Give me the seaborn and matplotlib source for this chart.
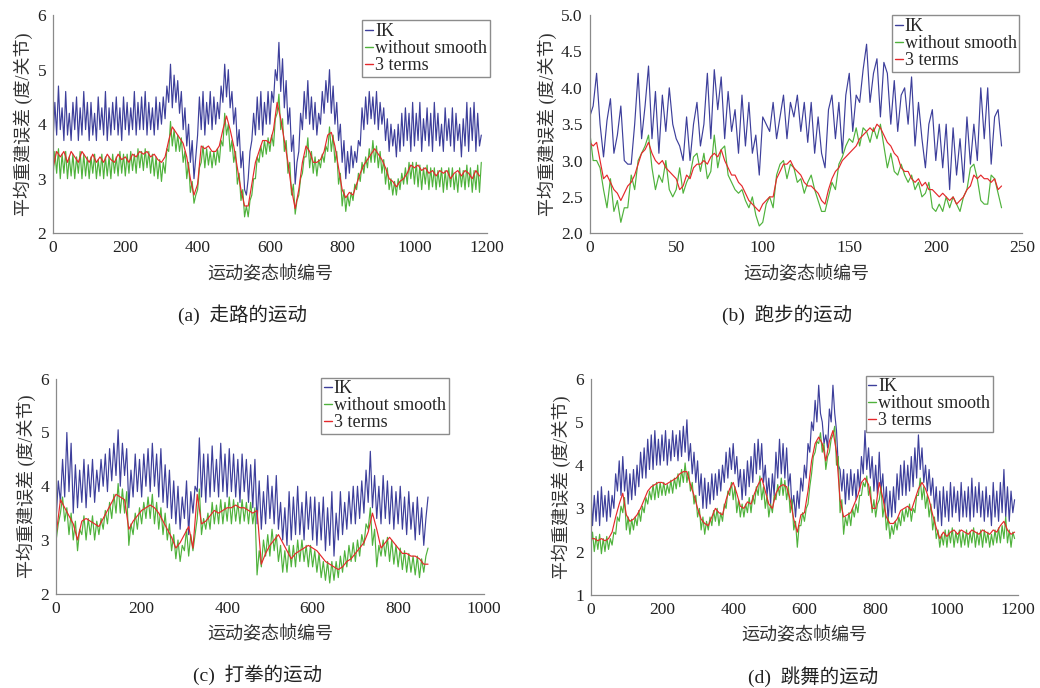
import numpy as np
import pandas as pd
import seaborn as sns
import matplotlib.pyplot as plt
from matplotlib.lines import Line2D
from matplotlib.ticker import FormatStrFormatter

# mean reconstruction error per frame
# (a) walking: IK / without smooth every 5 frames, 3 terms every 10 frames
walk_ik = [3.7, 4.4, 3.8, 4.7, 3.9, 4.3, 3.7, 4.6, 3.8, 4.2,
           3.7, 4.4, 3.9, 4.5, 3.7, 4.3, 3.8, 4.6, 3.9, 4.4,
           3.7, 4.4, 3.8, 4.2, 3.7, 4.5, 3.9, 4.3, 3.8, 4.6,
           3.7, 4.3, 3.8, 4.4, 3.9, 4.5, 3.8, 4.3, 3.7, 4.5,
           3.9, 4.4, 3.8, 4.3, 3.9, 4.6, 3.8, 4.4, 3.9, 4.5,
           3.9, 4.6, 3.8, 4.4, 3.9, 4.3, 3.8, 4.5, 3.9, 4.4,
           4.0, 4.5, 4.1, 4.7, 4.4, 5.1, 4.3, 4.9, 4.4, 4.8,
           4.2, 4.6, 3.9, 4.3, 3.6, 4.0, 3.3, 3.7, 3.0, 3.4,
           3.8, 4.5, 3.9, 4.6, 3.8, 4.4, 4.0, 4.6, 3.9, 4.5,
           4.0, 4.4, 4.1, 4.7, 4.4, 5.1, 4.5, 5.0, 4.3, 4.6,
           4.0, 4.3, 3.6, 3.9, 3.2, 3.5, 2.8, 2.7, 3.0, 3.5,
           3.7, 4.2, 3.8, 4.5, 3.9, 4.6, 3.8, 4.4, 4.0, 4.6,
           4.0, 4.6, 4.4, 5.0, 4.8, 5.5, 4.6, 5.2, 4.3, 4.8,
           4.0, 4.3, 3.5, 3.8, 2.9, 3.3, 3.5, 4.2, 3.9, 4.6,
           4.1, 4.8, 4.0, 4.5, 3.9, 4.4, 3.8, 4.2, 4.0, 4.6,
           4.2, 4.8, 4.4, 5.0, 4.2, 4.7, 4.0, 4.4, 3.7, 4.0,
           3.3, 3.7, 3.0, 3.5, 3.1, 3.6, 3.2, 3.5, 3.3, 3.7,
           3.6, 4.3, 3.9, 4.5, 4.0, 4.6, 4.1, 4.5, 4.0, 4.6,
           3.9, 4.4, 4.0, 4.3, 3.7, 4.1, 3.5, 4.0, 3.6, 3.9,
           3.4, 4.0, 3.5, 4.2, 3.6, 4.3, 3.7, 4.2, 3.5, 4.4,
           3.6, 4.2, 3.7, 4.4, 3.5, 4.1, 3.7, 4.3, 3.6, 4.2,
           3.5, 4.4, 3.7, 4.2, 3.6, 4.0, 3.5, 4.3, 3.7, 4.1,
           3.6, 4.3, 3.5, 4.2, 3.7, 4.0, 3.4, 4.1, 3.6, 4.4,
           3.5, 4.3, 3.7, 4.4, 3.5, 4.2, 3.6, 3.8]
walk_ws = [3.05, 3.5, 3.1, 3.55, 3.0, 3.45, 3.1, 3.5, 3.0, 3.4,
           3.05, 3.45, 3.0, 3.4, 3.1, 3.5, 3.0, 3.45, 3.05, 3.4,
           3.0, 3.4, 3.1, 3.45, 3.0, 3.35, 3.05, 3.45, 3.0, 3.4,
           3.05, 3.4, 3.0, 3.45, 3.1, 3.4, 3.05, 3.5, 3.1, 3.45,
           3.05, 3.45, 3.1, 3.5, 3.15, 3.45, 3.1, 3.55, 3.2, 3.5,
           3.15, 3.55, 3.2, 3.5, 3.1, 3.45, 3.05, 3.4, 3.0, 3.35,
           2.95, 3.3, 3.1, 3.55, 3.5, 4.05, 3.6, 3.9, 3.5, 3.8,
           3.5, 3.75, 3.3, 3.5, 3.0, 3.3, 2.75, 2.95, 2.55, 2.7,
           2.8, 3.2, 3.3, 3.6, 3.2, 3.55, 3.25, 3.5, 3.2, 3.5,
           3.25, 3.55, 3.3, 3.7, 3.6, 4.2, 3.8, 4.0, 3.5, 3.7,
           3.3, 3.5, 2.9, 3.1, 2.6, 2.8, 2.3, 2.5, 2.3, 2.6,
           2.7, 3.0, 3.0, 3.4, 3.3, 3.6, 3.4, 3.7, 3.45, 3.75,
           3.5, 3.8, 3.6, 4.1, 4.2, 4.55, 3.9, 4.1, 3.5, 3.7,
           3.1, 3.3, 2.7, 2.9, 2.35, 2.6, 2.7, 3.0, 3.1, 3.4,
           3.4, 3.75, 3.2, 3.5, 3.1, 3.4, 3.05, 3.35, 3.2, 3.45,
           3.3, 3.6, 3.5, 3.95, 3.5, 3.8, 3.3, 3.5, 2.9, 3.1,
           2.5, 2.8, 2.4, 2.7, 2.5, 2.75, 2.6, 2.9, 2.8, 3.1,
           2.95, 3.3, 3.1, 3.4, 3.2, 3.55, 3.3, 3.7, 3.3, 3.6,
           3.2, 3.5, 3.1, 3.35, 2.9, 3.2, 2.8, 3.0, 2.7, 2.95,
           2.7, 3.0, 2.8, 3.1, 2.9, 3.2, 2.9, 3.3, 3.0, 3.3,
           2.9, 3.3, 2.85, 3.25, 2.8, 3.2, 2.9, 3.25, 2.8, 3.2,
           2.85, 3.2, 2.8, 3.15, 2.85, 3.2, 2.75, 3.15, 2.8, 3.2,
           2.85, 3.2, 2.8, 3.1, 2.75, 3.2, 2.85, 3.15, 2.8, 3.25,
           2.85, 3.2, 2.75, 3.15, 2.8, 3.25, 2.75, 3.3]
walk_t3 = [3.2, 3.5, 3.4, 3.5, 3.3, 3.5, 3.4, 3.3, 3.5, 3.4,
           3.3, 3.45, 3.3, 3.4, 3.3, 3.45, 3.35, 3.3, 3.45, 3.35,
           3.4, 3.3, 3.45, 3.4, 3.5, 3.45, 3.5, 3.4, 3.45, 3.35,
           3.3, 3.4, 3.7, 3.95, 3.85, 3.75, 3.65, 3.4, 3.0, 2.7,
           2.9, 3.6, 3.55, 3.6, 3.5, 3.5, 3.6, 3.9, 4.15, 3.9,
           3.6, 3.2, 2.8, 2.5, 2.5, 2.9, 3.3, 3.5, 3.7, 3.7,
           3.65, 3.9, 4.4, 4.1, 3.7, 3.3, 2.8, 2.45, 2.8, 3.3,
           3.6, 3.5, 3.3, 3.3, 3.35, 3.5, 3.8, 3.85, 3.6, 3.2,
           2.8, 2.65, 2.75, 2.7, 2.9, 3.1, 3.25, 3.35, 3.45, 3.55,
           3.45, 3.35, 3.2, 3.0, 2.95, 2.85, 2.95, 3.0, 3.1, 3.25,
           3.2, 3.25, 3.15, 3.2, 3.1, 3.15, 3.05, 3.15, 3.1, 3.15,
           3.0, 3.1, 3.15, 3.05, 3.15, 3.1, 3.0, 3.15, 3.05]

# (b) running, every 2 frames
run_ik = [3.6, 3.75, 4.2, 3.5, 3.05, 3.55, 3.85, 3.1, 3.35, 3.75,
          3.0, 2.95, 2.95, 3.5, 4.2, 3.3, 3.75, 4.3, 3.3, 3.95,
          3.1, 3.9, 3.4, 4.0, 3.5, 3.3, 3.2, 3.0, 3.6, 3.0,
          3.5, 3.8, 3.2, 3.5, 4.2, 3.3, 4.25, 3.7, 4.15, 3.3,
          3.95, 3.4, 3.7, 3.1, 3.9, 3.2, 3.8, 3.1, 3.35, 2.8,
          3.6, 3.5, 3.4, 3.8, 3.3, 3.6, 3.9, 3.3, 3.8, 3.6,
          3.9, 3.4, 3.8, 3.25, 3.8, 3.1, 3.6, 3.1, 2.9, 3.7,
          3.9, 3.3, 3.8, 3.1, 3.9, 4.2, 3.4, 3.9, 3.8, 4.25,
          4.6, 3.8, 4.2, 4.4, 3.6, 4.35, 4.2, 3.5, 4.1, 3.4,
          3.9, 4.0, 3.5, 4.15, 3.2, 3.8, 3.3, 2.9, 3.5, 3.7,
          3.0, 3.5, 2.9, 3.5, 2.6, 3.45, 2.8, 3.3, 2.7, 3.6,
          2.95, 3.5, 3.0, 4.0, 3.3, 4.0, 2.95, 3.6, 3.7, 3.2]
run_ws = [3.4, 3.0, 3.0, 2.9, 2.6, 2.35, 2.75, 2.3, 2.45, 2.15,
          2.35, 2.35, 2.8, 2.6, 3.0, 3.1, 3.2, 3.35, 2.9, 2.6,
          2.8, 2.7, 3.0, 2.6, 2.5, 2.6, 2.9, 2.55, 2.7, 2.8,
          3.05, 3.1, 2.85, 3.1, 2.75, 2.85, 3.35, 2.9, 3.15, 3.2,
          2.8, 2.7, 2.6, 2.55, 2.6, 2.45, 2.35, 2.5, 2.25, 2.1,
          2.15, 2.4, 2.5, 2.35, 2.8, 2.95, 3.0, 2.75, 2.95, 2.9,
          2.7, 2.75, 2.55, 2.7, 2.8, 2.6, 2.45, 2.3, 2.3, 2.5,
          2.7, 2.6, 2.95, 3.05, 3.2, 3.3, 3.25, 3.45, 3.2, 3.45,
          3.4, 3.25, 3.45, 3.3, 3.5, 3.2, 2.9, 3.1, 2.85, 2.8,
          2.95, 2.8, 2.7, 2.8, 2.6, 2.7, 2.5, 2.55, 2.7, 2.35,
          2.3, 2.4, 2.3, 2.5, 2.35, 2.5, 2.4, 2.3, 2.5, 2.6,
          2.9, 2.95, 2.75, 2.45, 2.4, 2.4, 2.8, 2.75, 2.55, 2.35]
run_t3 = [3.25, 3.2, 3.25, 3.0, 2.75, 2.8, 2.7, 2.6, 2.55, 2.45,
          2.55, 2.65, 2.7, 2.8, 2.95, 3.1, 3.15, 3.25, 3.1, 3.0,
          2.95, 3.0, 2.9, 2.85, 2.8, 2.75, 2.6, 2.65, 2.8, 2.75,
          2.9, 2.95, 2.95, 3.0, 2.95, 3.05, 3.1, 3.05, 3.15, 3.0,
          2.9, 2.8, 2.8, 2.7, 2.65, 2.55, 2.45, 2.4, 2.35, 2.3,
          2.4, 2.45, 2.5, 2.5, 2.75, 2.85, 2.95, 2.95, 3.0, 2.9,
          2.85, 2.8, 2.7, 2.65, 2.65, 2.6, 2.55, 2.45, 2.4, 2.6,
          2.75, 2.85, 2.9, 3.0, 3.05, 3.1, 3.15, 3.2, 3.3, 3.35,
          3.4, 3.45, 3.4, 3.5, 3.45, 3.35, 3.25, 3.2, 3.1, 3.05,
          2.9, 2.85, 2.85, 2.75, 2.7, 2.75, 2.65, 2.7, 2.6, 2.6,
          2.55, 2.5, 2.55, 2.5, 2.45, 2.5, 2.4, 2.45, 2.5, 2.6,
          2.65, 2.8, 2.75, 2.8, 2.75, 2.75, 2.7, 2.75, 2.6, 2.65]

# (c) boxing: IK / without smooth every 5 frames, 3 terms every 10 frames
box_ik = [3.4, 4.1, 3.7, 4.5, 3.8, 5.0, 3.9, 4.8, 3.5, 4.4,
          3.6, 4.3, 3.7, 4.5, 3.6, 4.4, 3.8, 4.5, 3.7, 4.3,
          3.9, 4.5, 4.0, 4.6, 3.9, 4.7, 4.1, 4.8, 4.2, 5.05,
          4.0, 4.8, 4.2, 4.7, 3.6, 4.3, 3.8, 4.6, 3.9, 4.5,
          3.8, 4.6, 4.0, 4.7, 3.9, 4.8, 4.0, 4.6, 3.8, 4.7,
          3.7, 4.4, 3.6, 4.3, 3.4, 4.1, 3.3, 4.0, 3.2, 3.8,
          3.4, 4.1, 3.1, 3.9, 3.5, 4.0, 3.9, 4.9, 3.8, 4.6,
          3.7, 4.6, 3.8, 4.75, 3.9, 4.5, 3.8, 4.8, 3.9, 4.6,
          3.8, 4.7, 3.9, 4.6, 3.8, 4.5, 3.7, 4.6, 3.9, 4.5,
          3.7, 4.4, 3.6, 4.5, 3.3, 4.1, 3.2, 3.9, 3.3, 4.2,
          3.4, 4.0, 3.3, 4.2, 3.2, 3.7, 3.0, 3.6, 2.9, 3.9,
          3.0, 3.8, 3.1, 4.0, 3.1, 3.7, 3.0, 3.9, 3.2, 3.8,
          3.0, 3.8, 2.9, 3.7, 3.0, 3.8, 2.8, 3.6, 2.9, 3.9,
          2.7, 3.5, 3.0, 3.9, 3.1, 3.7, 3.2, 3.9, 3.3, 4.0,
          3.3, 4.0, 3.4, 4.1, 3.5, 4.3, 3.7, 4.65, 3.6, 4.2,
          3.4, 4.0, 3.3, 4.2, 3.4, 4.1, 3.3, 4.0, 3.2, 3.9,
          3.3, 4.0, 3.2, 3.8, 3.1, 3.9, 3.2, 3.7, 3.0, 3.8,
          3.1, 3.6, 2.9, 3.4, 3.8]
box_ws = [3.0, 3.3, 3.5, 3.8, 3.35, 3.6, 3.1, 3.5, 3.0, 3.35,
          2.8, 3.2, 3.1, 3.45, 3.0, 3.4, 3.1, 3.45, 3.0, 3.35,
          3.1, 3.4, 3.2, 3.55, 3.3, 3.7, 3.4, 3.85, 3.5, 4.05,
          3.5, 3.95, 3.5, 3.9, 2.9, 3.3, 3.1, 3.5, 3.2, 3.6,
          3.3, 3.7, 3.4, 3.8, 3.4, 3.85, 3.3, 3.7, 3.2, 3.6,
          3.1, 3.5, 3.0, 3.3, 2.8, 3.1, 2.65, 3.0, 2.6, 2.9,
          2.8, 3.2, 2.7, 3.1, 2.8, 3.1, 3.4, 3.95, 3.1, 3.4,
          3.2, 3.5, 3.2, 3.7, 3.3, 3.65, 3.3, 3.75, 3.3, 3.7,
          3.35, 3.8, 3.3, 3.75, 3.35, 3.7, 3.3, 3.75, 3.35, 3.7,
          3.3, 3.7, 3.3, 3.6, 2.35, 2.8, 2.5, 3.0, 2.7, 3.1,
          2.7, 3.2, 2.8, 3.1, 2.6, 2.9, 2.4, 2.8, 2.4, 2.9,
          2.5, 2.9, 2.5, 3.0, 2.6, 3.0, 2.6, 2.9, 2.5, 2.9,
          2.5, 2.8, 2.4, 2.75, 2.3, 2.6, 2.25, 2.6, 2.2, 2.6,
          2.25, 2.6, 2.3, 2.7, 2.4, 2.8, 2.5, 2.9, 2.6, 2.95,
          2.6, 3.0, 2.7, 3.1, 2.9, 3.3, 3.2, 3.6, 2.9, 3.2,
          2.5, 2.9, 2.7, 3.0, 2.7, 3.05, 2.6, 3.0, 2.55, 2.9,
          2.5, 2.85, 2.45, 2.8, 2.4, 2.75, 2.4, 2.7, 2.35, 2.7,
          2.3, 2.65, 2.4, 2.7, 2.85]
box_t3 = [3.1, 3.75, 3.6, 3.45, 3.3, 3.0, 3.35, 3.4, 3.35, 3.3,
          3.25, 3.4, 3.55, 3.7, 3.85, 3.8, 3.75, 3.2, 3.35, 3.45,
          3.55, 3.6, 3.65, 3.6, 3.5, 3.35, 3.2, 3.05, 2.85, 2.95,
          3.1, 3.25, 2.85, 3.85, 3.3, 3.35, 3.45, 3.55, 3.5, 3.55,
          3.6, 3.6, 3.65, 3.6, 3.6, 3.55, 3.5, 3.55, 2.55, 2.75,
          2.9, 3.0, 3.1, 2.95, 2.8, 2.65, 2.75, 2.8, 2.85, 2.9,
          2.85, 2.8, 2.7, 2.6, 2.55, 2.5, 2.45, 2.5, 2.6, 2.65,
          2.75, 2.85, 2.95, 3.15, 3.5, 3.2, 2.85, 2.95, 3.05, 2.95,
          2.85, 2.75, 2.75, 2.7, 2.7, 2.65, 2.55, 2.55]

# (d) dancing: IK / without smooth every 5 frames, 3 terms every 10 frames
dance_ik = [3.5, 2.6, 3.3, 2.7, 3.4, 2.6, 3.5, 2.8, 3.3, 2.7,
            3.4, 2.8, 3.3, 3.0, 3.8, 3.4, 4.1, 3.3, 4.2, 3.4,
            3.9, 3.1, 3.8, 3.2, 3.9, 3.3, 4.0, 3.5, 4.3, 3.7,
            4.4, 3.7, 4.6, 3.9, 4.7, 3.9, 4.8, 4.0, 4.6, 4.0,
            4.7, 4.1, 4.8, 4.0, 4.6, 4.1, 4.8, 4.2, 4.7, 4.1,
            4.8, 4.2, 4.9, 4.3, 5.05, 4.1, 4.5, 3.8, 4.3, 3.6,
            4.1, 3.3, 3.8, 3.0, 3.7, 3.0, 3.6, 3.1, 3.8, 3.2,
            3.8, 3.3, 3.9, 3.4, 4.0, 3.6, 4.3, 3.7, 4.4, 3.9,
            4.5, 3.8, 4.2, 3.5, 3.9, 3.2, 3.9, 3.3, 4.1, 3.5,
            4.2, 3.6, 4.5, 3.8, 4.6, 3.9, 4.5, 3.6, 4.0, 3.3,
            3.7, 3.1, 3.8, 3.3, 4.3, 3.7, 4.6, 3.8, 4.5, 3.7,
            4.4, 3.5, 3.8, 3.0, 3.3, 2.8, 3.4, 3.0, 3.7, 3.4,
            4.0, 3.7, 4.5, 4.3, 5.0, 4.8, 5.5, 5.0, 5.85, 5.2,
            5.0, 4.5, 4.7, 4.4, 5.3, 5.0, 5.85, 5.2, 4.8, 4.0,
            3.9, 3.4, 3.9, 3.1, 3.8, 3.2, 3.9, 3.3, 3.8, 3.2,
            3.9, 3.4, 4.2, 3.8, 4.8, 3.9, 4.4, 3.7, 4.2, 3.4,
            4.0, 3.3, 4.3, 3.4, 3.8, 3.0, 3.5, 2.7, 3.4, 2.8,
            3.5, 2.9, 3.8, 3.2, 4.0, 3.3, 4.1, 3.3, 4.0, 3.4,
            4.2, 3.5, 4.4, 3.7, 4.7, 3.9, 4.4, 3.6, 4.0, 3.4,
            3.9, 3.3, 3.7, 3.0, 3.5, 2.7, 3.4, 2.6, 3.5, 2.8,
            3.4, 2.7, 3.6, 2.8, 3.5, 2.9, 3.4, 2.7, 3.6, 2.8,
            3.4, 2.8, 3.5, 2.7, 3.7, 2.8, 3.5, 2.9, 3.6, 2.8,
            3.4, 2.7, 3.5, 2.8, 3.3, 2.6, 3.6, 2.8, 3.4, 2.7,
            3.6, 2.9, 3.9, 2.8, 3.5, 2.7, 3.4, 2.9, 3.2]
dance_ws = [2.1, 2.45, 2.0, 2.35, 2.05, 2.4, 1.95, 2.3, 2.0, 2.35,
            2.05, 2.3, 2.15, 2.45, 2.4, 2.8, 2.7, 3.05, 2.9, 3.25,
            2.5, 2.8, 2.4, 2.75, 2.5, 2.8, 2.6, 2.95, 2.7, 3.05,
            2.9, 3.25, 3.1, 3.4, 3.2, 3.55, 3.2, 3.6, 3.25, 3.6,
            3.3, 3.6, 3.3, 3.55, 3.35, 3.65, 3.35, 3.7, 3.45, 3.8,
            3.5, 3.9, 3.6, 4.05, 3.6, 3.85, 3.4, 3.6, 3.1, 3.3,
            2.8, 3.0, 2.5, 2.8, 2.4, 2.7, 2.5, 2.8, 2.6, 2.95,
            2.7, 3.0, 2.6, 2.9, 2.7, 3.1, 3.0, 3.4, 3.3, 3.6,
            3.2, 3.5, 2.9, 3.2, 2.8, 3.1, 2.8, 3.1, 2.9, 3.25,
            2.9, 3.3, 3.1, 3.5, 3.3, 3.75, 3.2, 3.5, 3.0, 3.3,
            2.8, 3.1, 2.9, 3.3, 3.2, 3.55, 3.3, 3.7, 3.3, 3.65,
            3.2, 3.5, 2.9, 3.2, 2.5, 2.7, 2.1, 2.6, 2.6, 2.9,
            2.7, 3.0, 3.1, 3.5, 3.8, 4.2, 4.3, 4.55, 4.5, 4.75,
            4.3, 4.5, 3.9, 4.2, 4.3, 4.6, 4.7, 4.9, 4.0, 4.2,
            2.9, 3.2, 2.4, 2.8, 2.6, 2.9, 2.6, 3.0, 2.8, 3.1,
            2.9, 3.3, 3.3, 3.6, 3.5, 3.75, 3.3, 3.5, 2.9, 3.2,
            2.8, 3.1, 3.2, 3.5, 2.8, 3.1, 2.5, 2.8, 2.3, 2.6,
            2.4, 2.7, 2.5, 2.8, 2.6, 2.95, 2.7, 3.0, 2.8, 3.1,
            2.7, 3.0, 2.9, 3.3, 3.3, 3.7, 3.2, 3.5, 3.0, 3.3,
            2.8, 3.1, 2.5, 2.8, 2.3, 2.5, 2.1, 2.4, 2.15, 2.5,
            2.1, 2.5, 2.2, 2.55, 2.1, 2.45, 2.2, 2.5, 2.1, 2.45,
            2.15, 2.5, 2.1, 2.45, 2.2, 2.55, 2.1, 2.45, 2.15, 2.5,
            2.1, 2.5, 2.2, 2.45, 2.1, 2.4, 2.15, 2.5, 2.2, 2.55,
            2.2, 2.6, 2.3, 2.8, 2.2, 2.5, 2.1, 2.45, 2.3]
dance_t3 = [2.3, 2.3, 2.25, 2.3, 2.25, 2.3, 2.45, 2.8, 3.1, 3.35,
            2.85, 2.7, 2.75, 2.85, 3.0, 3.2, 3.4, 3.5, 3.55, 3.6,
            3.6, 3.55, 3.6, 3.65, 3.7, 3.8, 3.85, 3.85, 3.55, 3.3,
            3.0, 2.75, 2.65, 2.6, 2.8, 3.0, 2.9, 2.85, 3.2, 3.45,
            3.6, 3.35, 3.05, 3.0, 3.15, 3.1, 3.35, 3.55, 3.7, 3.4,
            3.1, 3.0, 3.35, 3.5, 3.55, 3.5, 3.2, 2.75, 2.45, 2.85,
            2.9, 3.4, 4.1, 4.5, 4.65, 4.5, 4.1, 4.55, 4.8, 4.3,
            3.2, 2.8, 2.85, 2.9, 3.1, 3.3, 3.6, 3.7, 3.55, 3.0,
            3.0, 3.6, 3.25, 2.8, 2.65, 2.65, 2.75, 2.95, 3.0, 3.05,
            2.95, 3.2, 3.45, 3.6, 3.45, 3.2, 2.85, 2.55, 2.3, 2.45,
            2.35, 2.45, 2.5, 2.4, 2.5, 2.45, 2.4, 2.5, 2.45, 2.4,
            2.5, 2.45, 2.4, 2.5, 2.45, 2.6, 2.7, 2.5, 2.4, 2.45]

methods = ["IK", "without smooth", "3 terms"]
colors = {"IK": "#3d3f9b", "without smooth": "#4fb23c", "3 terms": "#e5282b"}

sns.set_style("white")
plt.rcParams["font.family"] = ["Liberation Serif", "Noto Sans CJK SC"]

SPINE = "#8a8a8a"

panels = [
    dict(rect=[0.051, 0.661, 0.417, 0.317], steps=(5, 5, 10), series=(walk_ik, walk_ws, walk_t3),
         xlim=(0, 1200), xstep=200, ylim=(2, 6), yticks=[2, 3, 4, 5, 6], yfmt="%d",
         anchor=(1.007, 0.977), caption="(a)  走路的运动", cap=(243, 315)),
    dict(rect=[0.567, 0.661, 0.416, 0.317], steps=(2, 2, 2), series=(run_ik, run_ws, run_t3),
         xlim=(0, 250), xstep=50, ylim=(2, 5), yticks=[2, 2.5, 3, 3.5, 4, 4.5, 5], yfmt="%.1f",
         anchor=(0.993, 1.0), caption="(b)  跑步的运动", cap=(787, 315)),
    dict(rect=[0.054, 0.137, 0.411, 0.3125], steps=(5, 5, 10), series=(box_ik, box_ws, box_t3),
         xlim=(0, 1000), xstep=200, ylim=(2, 6), yticks=[2, 3, 4, 5, 6], yfmt="%d",
         anchor=(0.918, 1.005), caption="(c)  打拳的运动", cap=(258, 675)),
    dict(rect=[0.568, 0.1355, 0.411, 0.314], steps=(5, 5, 10), series=(dance_ik, dance_ws, dance_t3),
         xlim=(0, 1200), xstep=200, ylim=(1, 6), yticks=[1, 2, 3, 4, 5, 6], yfmt="%d",
         anchor=(0.941, 1.014), caption="(d)  跳舞的运动", cap=(813, 677)),
]

fig = plt.figure(figsize=(10.4, 6.88), dpi=100)

for p in panels:
    ax = fig.add_axes(p["rect"])
    df = pd.concat([
        pd.DataFrame({"frame": np.arange(len(vals)) * step, "err": vals, "method": name})
        for name, vals, step in zip(methods, p["series"], p["steps"])
    ])
    sns.lineplot(data=df, x="frame", y="err", hue="method", hue_order=methods,
                 palette=colors, linewidth=0.85, legend=False, ax=ax)

    ax.set_xlim(*p["xlim"])
    ax.set_ylim(*p["ylim"])
    ax.set_xticks(np.arange(p["xlim"][0], p["xlim"][1] + 1, p["xstep"]))
    ax.set_yticks(p["yticks"])
    ax.yaxis.set_major_formatter(FormatStrFormatter(p["yfmt"]))
    sns.despine(ax=ax)
    for s in ("left", "bottom"):
        ax.spines[s].set_color(SPINE)
        ax.spines[s].set_linewidth(0.9)
    ax.tick_params(direction="in", length=3, width=0.8, color=SPINE,
                   labelsize=12.5, labelcolor="#222222", pad=5)

    ax.set_xlabel("运动姿态帧编号", fontsize=13, color="#333333", labelpad=7)
    ax.set_ylabel("平均重建误差 (度/关节)", fontsize=13, color="#333333", labelpad=3)

    handles = [Line2D([], [], color=colors[m], lw=1.0) for m in methods]
    leg = ax.legend(handles, methods, loc="upper right", bbox_to_anchor=p["anchor"],
                    fontsize=13, frameon=True, fancybox=False, framealpha=1,
                    edgecolor="#8c8c8c", borderpad=0.15, labelspacing=0.0,
                    handlelength=0.45, handletextpad=0.1, borderaxespad=0)
    leg.get_frame().set_linewidth(1.0)

    fig.text(p["cap"][0] / 1040, 1 - p["cap"][1] / 688, p["caption"],
             ha="center", va="center", fontsize=14, color="#222222")

fig.savefig("out.png", dpi=100, facecolor="white")
